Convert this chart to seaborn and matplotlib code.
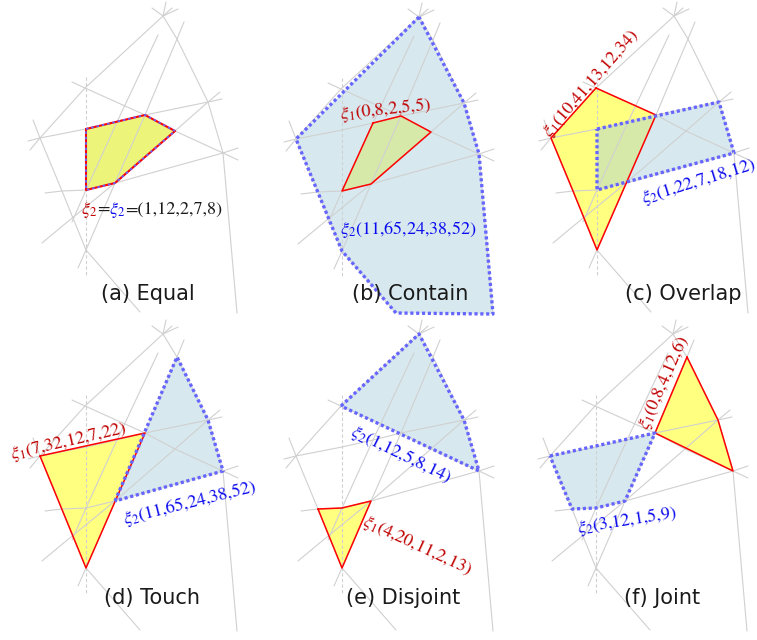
import matplotlib
matplotlib.use('Agg')
import matplotlib.pyplot as plt
import seaborn as sns
import pandas as pd

# road network nodes, in panel-local pixels
T = (163, 16); B = (85, 88); L = (40, 138); P = (145, 115); Q = (175, 131)
R1 = (208, 102); R2 = (223, 153); S = (115, 183); V = (86, 190); W = (86, 250)
U = (86, 129); X = (117, 122); Y = (177, 39); Z = (62, 191)
G1 = (140, 312); G2 = (237, 313)

roads = [
    [(172, 8), T, B, L, (30, 150)],
    [T, Y, R1, R2, G2],
    [(28, 141), L, U, X, P, R1, (222, 99)],
    [(72, 82), B, P, Q, R2, (238, 160)],
    [(45, 193), Z, V, S, R2, (238, 148)],
    [(220, 92), R1, Q, S, (60, 228), (42, 243)],
    [(184, 22), Y, P, S, W, (78, 268)],
    [(158, 35), X, V, (72, 222)],
    [(33, 120), L, Z, W, G1],
    [(152, 8), T, (166, 2)],
    [T, (178, 9)],
]
vertical_road = [(86, 77), (86, 277)]

panel_titles = ['(a) Equal', '(b) Contain', '(c) Overlap', '(d) Touch', '(e) Disjoint', '(f) Joint']
panel_offsets = [(0, 0), (256, 1), (511, 0), (0, 318), (256, 318), (510, 318)]
title_xy = [(148, 294), (410, 294), (683, 294), (152, 598), (403, 598), (662, 598)]

# xi_1 (yellow / red) and xi_2 (blue) regions per panel
xi1_regions = [[U, P, Q, S, V], [X, P, Q, S, V], [B, P, W, Z, L],
               [L, P, W], [Z, V, S, W], [Y, R1, R2, P]]
xi2_regions = [[U, P, Q, S, V], [T, L, W, G1, G2, R2, R1], [U, R1, R2, V],
               [S, Y, R1, R2], [B, T, R1, R2], [L, P, S, V, Z]]

# labels: text, colour, anchor (image px), rotation
label_text = [r'$\xi_2$', '=', r'$\xi_2$', '=(1,12,2,7,8)',
              r'$\xi_1$(0,8,2,5,5)', r'$\xi_2$(11,65,24,38,52)',
              r'$\xi_1$(10,41,13,12,34)', r'$\xi_2$(1,22,7,18,12)',
              r'$\xi_1$(7,32,12,7,22)', r'$\xi_2$(11,65,24,38,52)',
              r'$\xi_2$(1,12,5,8,14)', r'$\xi_1$(4,20,11,2,13)',
              r'$\xi_1$(0,8,4,12,6)', r'$\xi_2$(3,12,1,5,9)']
label_color = ['r', 'k', 'b', 'k', 'r', 'b', 'r', 'b', 'r', 'b', 'b', 'r', 'r', 'b']
label_xy = [(81, 210), (97, 210), (109, 210), (125, 210),
            (340, 115), (340, 230), (546, 135), (642, 199),
            (11, 455), (123, 520), (352, 431), (363, 521),
            (643, 429), (577, 529)]
label_rot = [0, 0, 0, 0, 6, 0, 49, 17, 13, 14, -26, -25, 66, 9]

RED_TXT = '#c00000'
BLUE_TXT = '#0a0aee'
GRAY = '#d0d0d0'

sns.set_theme(style='white')
plt.rcParams['mathtext.fontset'] = 'stix'

fig = plt.figure(figsize=(7.57, 6.40), dpi=100)
ax = fig.add_axes([0, 0, 1, 1])

# fills first
for i, (ox, oy) in enumerate(panel_offsets):
    xs = [p[0] + ox for p in xi1_regions[i]]
    ys = [p[1] + oy for p in xi1_regions[i]]
    ax.fill(xs, ys, facecolor='#ecf57a' if i == 0 else '#ffff80', edgecolor='none', zorder=1)
    if i > 0:
        xs = [p[0] + ox for p in xi2_regions[i]]
        ys = [p[1] + oy for p in xi2_regions[i]]
        ax.fill(xs, ys, facecolor='#a8d0dc', alpha=0.45, edgecolor='none', zorder=2)

# road network through seaborn
rows, vrows = [], []
for i, (ox, oy) in enumerate(panel_offsets):
    for r, road in enumerate(roads):
        for x, y in road:
            rows.append({'x': x + ox, 'y': y + oy, 'seg': f'{i}-{r}'})
    for x, y in vertical_road:
        vrows.append({'x': x + ox, 'y': y + oy, 'seg': f'{i}'})
sns.lineplot(data=pd.DataFrame(rows), x='x', y='y', units='seg', estimator=None,
             sort=False, color=GRAY, lw=0.8, ax=ax, legend=False, zorder=2.5)
sns.lineplot(data=pd.DataFrame(vrows), x='x', y='y', units='seg', estimator=None,
             sort=False, color=GRAY, lw=0.8, ls=(0, (3, 2)), ax=ax, legend=False, zorder=2.5)

# outlines
for i, (ox, oy) in enumerate(panel_offsets):
    pts = xi1_regions[i] + [xi1_regions[i][0]]
    ax.plot([p[0] + ox for p in pts], [p[1] + oy for p in pts], color='#ff0000',
            lw=1.5 if i == 0 else 1.1, zorder=3)
    pts = xi2_regions[i] + [xi2_regions[i][0]]
    if i == 0:
        ax.plot([p[0] + ox for p in pts], [p[1] + oy for p in pts], color='#6666ff',
                lw=1.3, ls=(0, (1.4, 1.6)), dash_capstyle='butt', zorder=4)
    else:
        ax.plot([p[0] + ox for p in pts], [p[1] + oy for p in pts], color='#6666ff',
                lw=2.4, ls=(0, (0.95, 0.8)), dash_capstyle='butt', zorder=4)

for txt, (x, y) in zip(panel_titles, title_xy):
    ax.text(x, y, txt, ha='center', va='center', fontsize=15, color='#1a1a1a',
            family='DejaVu Sans', zorder=5)

cmap = {'r': RED_TXT, 'b': BLUE_TXT, 'k': '#1a1a1a'}
for txt, c, (x, y), rot in zip(label_text, label_color, label_xy, label_rot):
    ax.text(x, y, txt, ha='left', va='center', rotation=rot, rotation_mode='anchor',
            fontsize=13, color=cmap[c], family='STIXGeneral', zorder=5)

ax.set_xlim(0, 757)
ax.set_ylim(640, 0)
ax.axis('off')
fig.savefig('out.png', dpi=100)
